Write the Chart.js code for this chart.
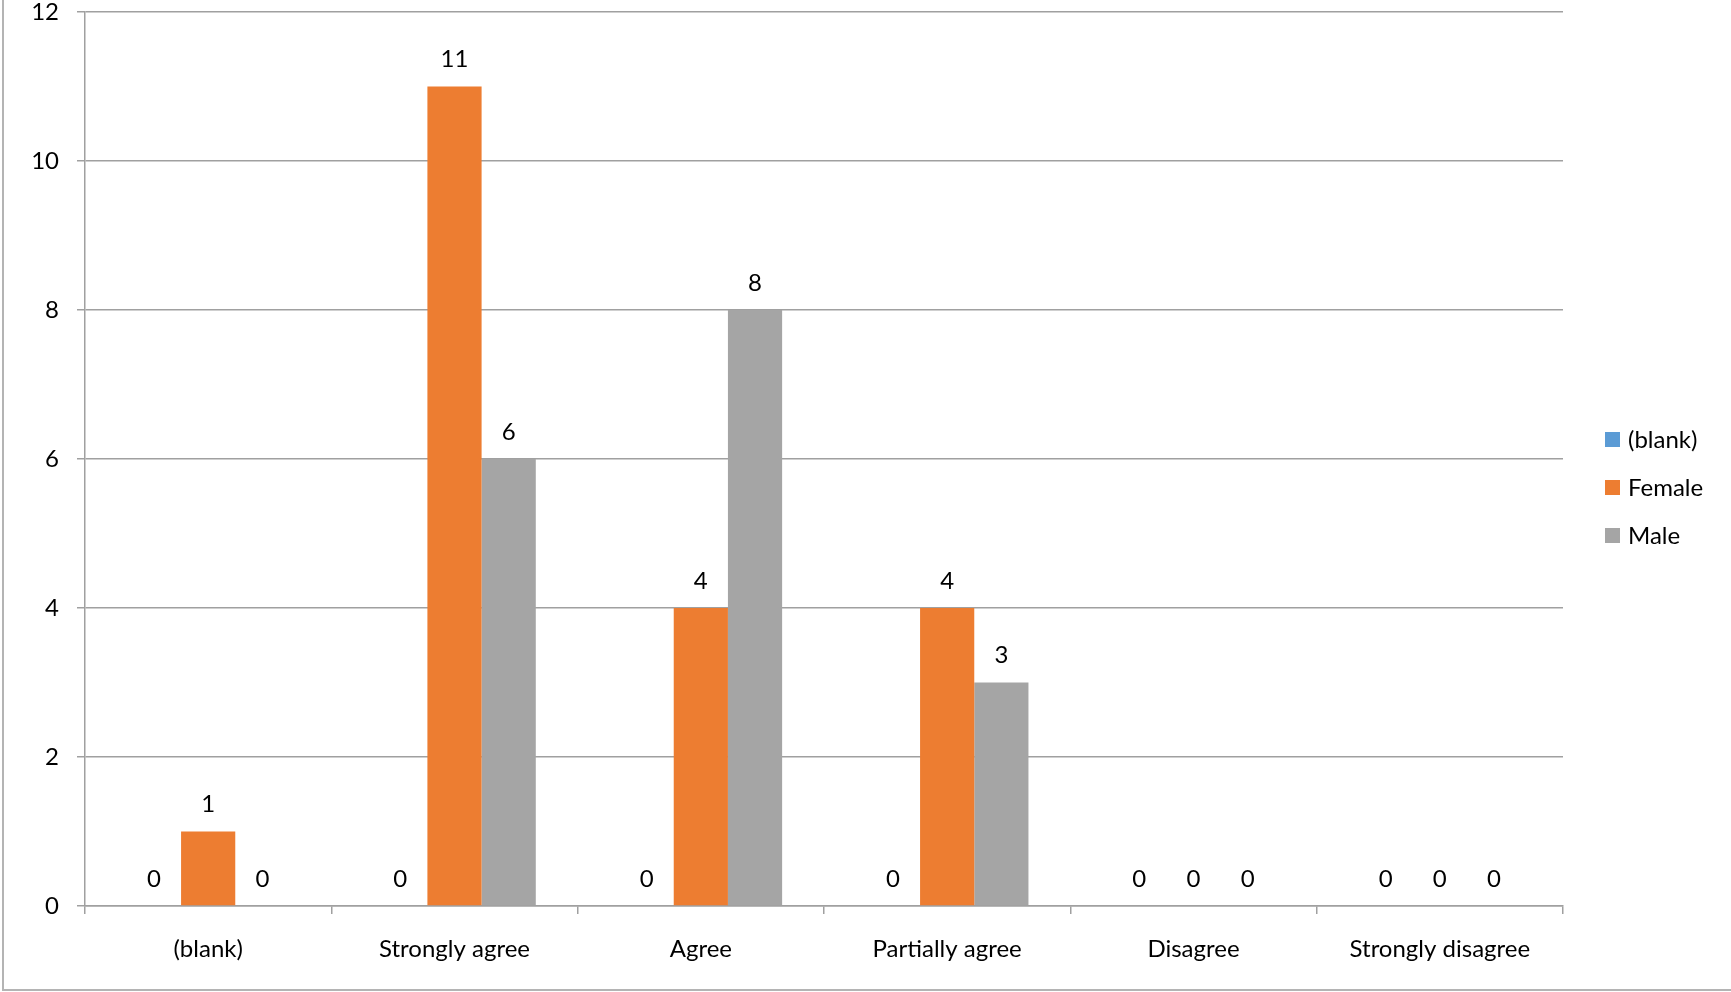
<!DOCTYPE html>
<html>
<head>
<meta charset="utf-8">
<script src="https://cdn.jsdelivr.net/npm/chart.js@4.4.0/dist/chart.umd.min.js"></script>
<style>
  html, body { margin: 0; padding: 0; background: #fff; overflow: hidden; }
  #wrap { position: relative; width: 1731px; height: 992px; }
  #wrap canvas { display: block; }
</style>
</head>
<body>
<div id="wrap"><canvas id="responseChart"></canvas></div>
<script>
// data
const categories = ['(blank)', 'Strongly agree', 'Agree', 'Partially agree', 'Disagree', 'Strongly disagree'];
const seriesNames = ['(blank)', 'Female', 'Male'];
const blankValues = [0, 0, 0, 0, 0, 0];
const femaleValues = [1, 11, 4, 4, 0, 0];
const maleValues = [0, 6, 8, 3, 0, 0];
const yTicks = [0, 2, 4, 6, 8, 10, 12];

const seriesColors = ['#5B9BD5', '#ED7D31', '#A5A5A5'];
const gridGray = '#a0a0a0';
const FONT = 'Lato, Calibri, Carlito, sans-serif';
const FONT_SIZE = 24;

// value labels above each bar (Excel style)
const valueLabels = {
  id: 'valueLabels',
  afterDatasetsDraw(chart) {
    const ctx = chart.ctx;
    ctx.save();
    ctx.font = FONT_SIZE + 'px ' + FONT;
    ctx.fillStyle = '#000';
    ctx.textAlign = 'center';
    ctx.textBaseline = 'middle';
    chart.data.datasets.forEach((ds, i) => {
      chart.getDatasetMeta(i).data.forEach((bar, j) => {
        ctx.fillText(String(ds.data[j]), bar.x, bar.y - 27);
      });
    });
    ctx.restore();
  }
};

// legend on the right, square markers
const sideLegend = {
  id: 'sideLegend',
  afterDraw(chart) {
    const ctx = chart.ctx;
    const area = chart.chartArea;
    const x = area.right + 42;
    const mid = (area.top + area.bottom) / 2;
    ctx.save();
    ctx.font = FONT_SIZE + 'px ' + FONT;
    ctx.textAlign = 'left';
    ctx.textBaseline = 'middle';
    chart.data.datasets.forEach((ds, i) => {
      const y = mid - 19.5 + i * 48;
      ctx.fillStyle = ds.backgroundColor;
      ctx.fillRect(x, y - 7.5, 15, 15);
      ctx.fillStyle = '#000';
      ctx.fillText(ds.label, x + 23, y + 1);
    });
    ctx.restore();
  }
};

// thin frame visible on the left and bottom edges
const frame = {
  id: 'frame',
  beforeDraw(chart) {
    const ctx = chart.ctx;
    ctx.save();
    ctx.strokeStyle = '#b4b4b4';
    ctx.lineWidth = 2;
    ctx.beginPath();
    ctx.moveTo(3, 0);
    ctx.lineTo(3, 990);
    ctx.lineTo(chart.width, 990);
    ctx.stroke();
    ctx.restore();
  }
};

const ctx = document.getElementById('responseChart').getContext('2d');
new Chart(ctx, {
  type: 'bar',
  data: {
    labels: categories,
    datasets: [
      { label: seriesNames[0], data: blankValues, backgroundColor: seriesColors[0] },
      { label: seriesNames[1], data: femaleValues, backgroundColor: seriesColors[1] },
      { label: seriesNames[2], data: maleValues, backgroundColor: seriesColors[2] }
    ]
  },
  options: {
    responsive: true,
    maintainAspectRatio: false,
    animation: false,
    datasets: {
      bar: { categoryPercentage: 0.66, barPercentage: 1.0 }
    },
    layout: { padding: { top: 12, right: 168, left: 0, bottom: 0 } },
    plugins: {
      legend: { display: false },
      tooltip: { enabled: false }
    },
    scales: {
      x: {
        offset: true,
        grid: {
          offset: true,
          drawOnChartArea: false,
          drawTicks: true,
          tickLength: 8,
          color: gridGray,
          lineWidth: 1.5
        },
        border: { color: gridGray, width: 1.5 },
        ticks: {
          color: '#000',
          font: { family: FONT, size: FONT_SIZE },
          padding: 21,
          maxRotation: 0
        },
        afterFit(scale) {
          scale.height = 86;
          scale.paddingLeft = 0;
          scale.paddingRight = 0;
        }
      },
      y: {
        min: yTicks[0],
        max: yTicks[yTicks.length - 1],
        afterBuildTicks(scale) { scale.ticks = yTicks.map(v => ({ value: v })); },
        grid: {
          color: gridGray,
          lineWidth: 1.5,
          tickLength: 8
        },
        border: { color: gridGray, width: 1.5 },
        ticks: {
          color: '#000',
          font: { family: FONT, size: FONT_SIZE },
          padding: 18
        },
        afterFit(scale) {
          scale.width = 85;
          scale.paddingTop = 0;
          scale.paddingBottom = 0;
        }
      }
    }
  },
  plugins: [frame, valueLabels, sideLegend]
});
</script>
</body>
</html>
